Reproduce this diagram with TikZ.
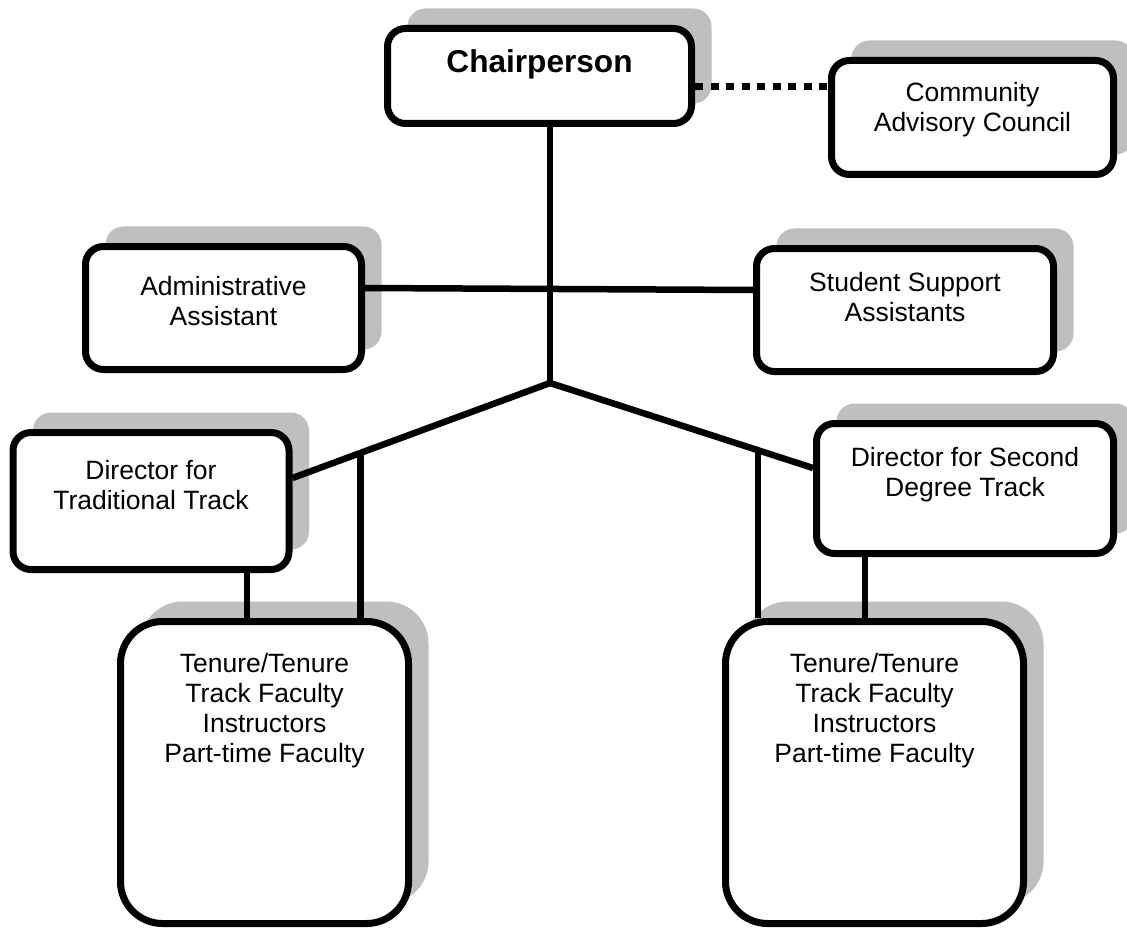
\documentclass[tikz,border=0pt]{standalone}
\usepackage{fontspec}
\setmainfont{Liberation Sans}
\usetikzlibrary{shadows}

\begin{document}
\begin{tikzpicture}[x=1pt,y=-1pt]
    % Define styles
    \tikzstyle{box} = [rectangle, draw, line width=7pt, rounded corners=18pt, fill=white, drop shadow={shadow xshift=20pt, shadow yshift=20pt, fill=black!25, opacity=1}]
    \tikzstyle{bigbox} = [box, rounded corners=42pt]
    \tikzstyle{txt} = [align=center, font=\fontsize{26.5pt}{30pt}\selectfont]
    \tikzstyle{link} = [line width=6.5pt]

    \useasboundingbox (0,0) rectangle (1127,928);

    % Boxes
    \node[box, minimum width=304pt, minimum height=95pt, label={[txt, font=\fontsize{31.6pt}{36pt}\selectfont\bfseries, yshift=12pt]center:Chairperson}] (chair) at (539.5,76) {};
    \node[box, minimum width=282pt, minimum height=114pt, label={[txt, yshift=7.5pt]center:Community\\Advisory Council}] (council) at (972.5,117.5) {};
    \node[box, minimum width=276pt, minimum height=123pt, label={[txt, yshift=6.5pt]center:Administrative\\Assistant}] (admin) at (223.5,308) {};
    \node[box, minimum width=297pt, minimum height=123pt, label={[txt, yshift=12.5pt]center:Student Support\\Assistants}] (support) at (905,310) {};
    \node[box, minimum width=276pt, minimum height=137pt, label={[txt, yshift=16pt]center:Director for\\Traditional Track}] (dirtrad) at (151,501) {};
    \node[box, minimum width=297pt, minimum height=130pt, label={[txt, yshift=13.5pt]center:Director for Second\\Degree Track}] (dirsecond) at (965,488.5) {};
    \node[bigbox, minimum width=288pt, minimum height=302pt, label={[txt, yshift=61.5pt]center:Tenure/Tenure\\Track Faculty\\Instructors\\Part-time Faculty}] (factrad) at (264.5,772.5) {};
    \node[bigbox, minimum width=298pt, minimum height=302pt, label={[txt, yshift=61.5pt]center:Tenure/Tenure\\Track Faculty\\Instructors\\Part-time Faculty}] (facsecond) at (874.5,772.5) {};
    \coordinate (hub) at (550,383);

    % Connections
    \draw[line width=7pt, dash pattern=on 8pt off 7.5pt] ([yshift=-11pt]chair.east) coordinate (dotstart) -- (dotstart -| council.west);
    \draw[link] (chair.south -| hub) -- (hub);
    \draw[link] ([yshift=20pt]admin.east) -- ([yshift=20pt]support.west);
    \draw[link] (hub) -- coordinate[pos=0.736] (tradjoin) ([yshift=23pt]dirtrad.east);
    \draw[link] (hub) -- coordinate[pos=0.791] (secondjoin) ([yshift=20.5pt]dirsecond.west);
    \draw[link] (tradjoin) -- (tradjoin |- factrad.north);
    \draw[link] (secondjoin) -- (secondjoin |- facsecond.north);
    \draw[link] ([xshift=96pt]dirtrad.south) coordinate (tradfoot) -- (tradfoot |- factrad.north);
    \draw[link] ([xshift=-100pt]dirsecond.south) coordinate (secondfoot) -- (secondfoot |- facsecond.north);
\end{tikzpicture}
\end{document}
